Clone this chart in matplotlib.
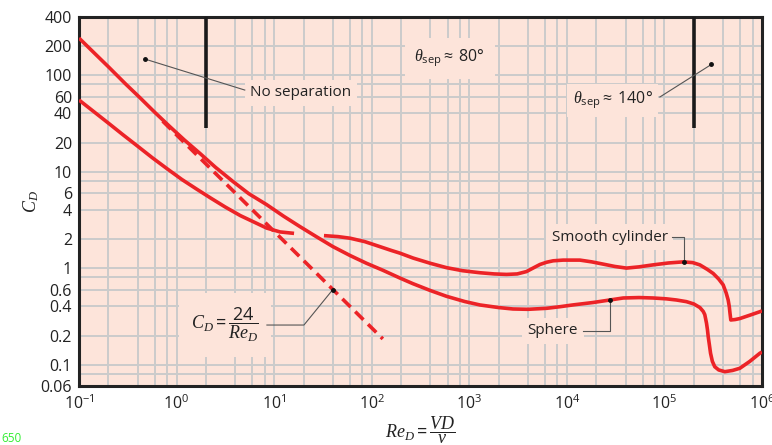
import numpy as np
import matplotlib
matplotlib.use("Agg")
import matplotlib.pyplot as plt
from matplotlib.ticker import FixedLocator, FixedFormatter, LogLocator

plt.rcParams['font.family'] = ['Open Sans', 'DejaVu Sans']
plt.rcParams['mathtext.fontset'] = 'custom'
plt.rcParams['mathtext.rm'] = 'Open Sans'
plt.rcParams['mathtext.it'] = 'Liberation Serif:italic'
plt.rcParams['mathtext.bf'] = 'Open Sans:bold'

# sphere drag curve (Re, CD)
re_sphere = [0.1, 0.15, 0.2, 0.3, 0.42, 0.6, 0.855, 1.2, 1.74, 2.5, 3.78, 5.5, 8.37,
             12.5, 18.4, 27, 40, 60, 88.7, 130, 194, 264, 400, 585, 900, 1285, 2000,
             2800, 4000, 6190, 8500, 11500, 18600, 27500, 37800, 55000, 76600,
             105000, 133000, 168000, 200000, 231000, 250000, 259000, 265000, 270000,
             276000, 281000, 289000, 297000, 310000, 328000, 360000, 416000, 500000,
             593000, 750000, 950000, 1000000]
cd_sphere = [242, 162, 122, 81, 58.5, 41, 29.2, 21.3, 15.4, 11.1, 7.9, 5.9, 4.55,
             3.45, 2.69, 2.12, 1.67, 1.35, 1.12, 0.95, 0.79, 0.69, 0.585, 0.51, 0.45,
             0.415, 0.39, 0.377, 0.374, 0.383, 0.398, 0.415, 0.44, 0.467, 0.49, 0.495,
             0.49, 0.48, 0.467, 0.449, 0.425, 0.39, 0.355, 0.33, 0.295, 0.268,
             0.23, 0.195, 0.16, 0.131, 0.108, 0.095, 0.088, 0.0844, 0.087,
             0.0916, 0.108, 0.131, 0.135]

# smooth cylinder: low-Re branch, then main branch after the gap
re_cyl_low = [0.1, 0.141, 0.2, 0.282, 0.4, 0.565, 0.8, 1.13, 1.6, 2.25, 3.16, 4.5,
              6.3, 8.37, 11.5, 16]
cd_cyl_low = [55.2, 42, 31.8, 24.1, 18.3, 13.9, 10.7, 8.3, 6.6, 5.3, 4.29, 3.5,
              2.98, 2.6, 2.37, 2.29]
re_cyl = [32.4, 45, 60, 85, 121, 160, 194, 266, 400, 585, 850, 1285, 1800, 2410,
          3100, 3850, 4500, 5300, 6200, 7240, 9160, 13600, 18000, 23500, 31000,
          40800, 55000, 76600, 110000, 155600, 195000, 230700, 275000, 316000,
          360000, 400000, 430000, 450000, 462000, 470000, 479000, 530000, 593000,
          750000, 950000, 1000000]
cd_cyl = [2.17, 2.12, 2.04, 1.88, 1.67, 1.52, 1.43, 1.27, 1.12, 1.01, 0.94, 0.895,
          0.87, 0.86, 0.87, 0.92, 1.0, 1.09, 1.15, 1.19, 1.21, 1.21, 1.16, 1.10, 1.04,
          1.0, 1.03, 1.08, 1.13, 1.16, 1.14, 1.08, 0.97, 0.88,
          0.77, 0.67, 0.55, 0.467, 0.40, 0.34, 0.29, 0.293, 0.30,
          0.325, 0.353, 0.36]

# Stokes line CD = 24/Re
re_stokes = np.array([0.72, 130])
cd_stokes = 24 / re_stokes

y_ticks = [400, 200, 100, 60, 40, 20, 10, 6, 4, 2, 1, 0.6, 0.4, 0.2, 0.1, 0.06]
y_tick_labels = ['400', '200', '100', '60', '40', '20', '10', '6', '4', '2', '1',
                 '0.6', '0.4', '0.2', '0.1', '0.06']
y_grid = [400, 200, 100, 80, 60, 40, 20, 10, 8, 6, 4, 2, 1, 0.8, 0.6, 0.4, 0.2,
          0.1, 0.08, 0.06]

bg = '#fde4da'
red = '#ec2327'
grid_c = '#cbcbcb'

fig = plt.figure(figsize=(7.72, 4.45), dpi=100)
ax = fig.add_axes([79 / 772, 1 - 386 / 445, (762 - 79) / 772, (386 - 17) / 445])
ax.set_facecolor(bg)
ax.set_xscale('log')
ax.set_yscale('log')
ax.set_xlim(0.1, 1e6)
ax.set_ylim(0.06, 400)

ax.xaxis.set_major_locator(LogLocator(base=10, numticks=20))
ax.xaxis.set_minor_locator(LogLocator(base=10, subs=[2, 4, 6, 8], numticks=20))
ax.yaxis.set_major_locator(FixedLocator(y_ticks))
ax.yaxis.set_major_formatter(FixedFormatter(y_tick_labels))
ax.yaxis.set_minor_locator(FixedLocator(y_grid))
ax.tick_params(which='both', length=0, labelsize=11.5, colors='#222222')
ax.tick_params(axis='x', pad=6)
ax.tick_params(axis='y', pad=5)
ax.grid(True, which='both', color=grid_c, linewidth=1.4)
ax.set_axisbelow(True)
for s in ax.spines.values():
    s.set_linewidth(2.2)
    s.set_color('#222222')

ax.plot(re_sphere, cd_sphere, color=red, lw=2.6, solid_capstyle='butt',
        solid_joinstyle='round', zorder=3)
ax.plot(re_cyl_low, cd_cyl_low, color=red, lw=2.6, solid_capstyle='butt',
        solid_joinstyle='round', zorder=3)
ax.plot(re_cyl, cd_cyl, color=red, lw=2.6, solid_capstyle='butt',
        solid_joinstyle='round', zorder=3)
ax.plot(re_stokes, cd_stokes, color=red, lw=2.6, dashes=(3.2, 1.8), zorder=3)

# separation markers
for xv in [2, 2e5]:
    ax.plot([xv, xv], [400, 28], color='#1a1a1a', lw=2.6, solid_capstyle='butt', zorder=4)

box = dict(facecolor=bg, edgecolor='none', pad=4)
lc = '#555555'

ax.text(18.8, 66, 'No separation', fontsize=11, ha='center', va='center',
        color='#222222', bbox=box, zorder=5)
ax.plot([0.47, 5.0], [147, 70], color=lc, lw=0.8, zorder=5)
ax.plot([0.47], [147], 'o', color='#111111', ms=2.5, zorder=6)

ax.text(631, 150, r'$\theta_{\mathrm{sep}}\approx$ 80°', fontsize=11.5, ha='center',
        va='center', color='#222222', bbox=dict(facecolor=bg, edgecolor='none', pad=7),
        zorder=5)

ax.text(29600, 55, r'$\theta_{\mathrm{sep}}\approx$ 140°', fontsize=11.5, ha='center',
        va='center', color='#222222', bbox=box, zorder=5)
ax.plot([89800, 303000], [59.3, 129], color=lc, lw=0.8, zorder=5)
ax.plot([303000], [129], 'o', color='#111111', ms=2.5, zorder=6)

ax.text(27600, 2.1, 'Smooth cylinder', fontsize=11, ha='center', va='center',
        color='#222222', bbox=box, zorder=5)
ax.plot([119000, 158000, 158000], [2.1, 2.1, 1.16], color=lc, lw=0.8, zorder=5)
ax.plot([158000], [1.16], 'o', color='#111111', ms=2.5, zorder=6)

ax.text(7190, 0.223, 'Sphere', fontsize=11, ha='center', va='center',
        color='#222222', bbox=box, zorder=5)
ax.plot([14600, 27600, 27600], [0.223, 0.223, 0.467], color=lc, lw=0.8, zorder=5)
ax.plot([27600], [0.467], 'o', color='#111111', ms=2.5, zorder=6)

ax.text(3.13, 0.257, r'$C_D = \dfrac{24}{Re_D}$', fontsize=13, ha='center',
        va='center', color='#222222',
        bbox=dict(facecolor=bg, edgecolor='none', pad=9), zorder=5)
ax.plot([8.43, 20.2, 40], [0.257, 0.257, 0.6], color=lc, lw=0.8, zorder=5)
ax.plot([40], [0.6], 'o', color='#111111', ms=2.5, zorder=6)

ax.set_xlabel(r'$Re_D = \dfrac{VD}{\nu}$', fontsize=13, labelpad=1, color='#222222')
ax.set_ylabel(r'$C_D$', fontsize=13, color='#222222')
ax.yaxis.set_label_coords(-0.055, 0.5)

fig.text(1, 445 - 438, '650', transform=None, fontsize=8.5, color='#33ee33',
         va='center', ha='left')

fig.savefig('out.png', dpi=100, facecolor='white')
